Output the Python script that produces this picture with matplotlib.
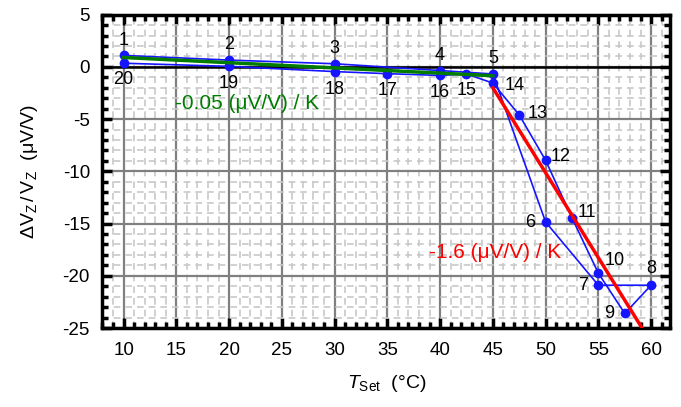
import matplotlib
matplotlib.use("Agg")
import matplotlib.pyplot as plt
from matplotlib.ticker import MultipleLocator

plt.rcParams['font.family'] = ['Liberation Sans', 'DejaVu Sans']
plt.rcParams['mathtext.fontset'] = 'custom'
plt.rcParams['mathtext.rm'] = 'Liberation Sans'
plt.rcParams['mathtext.it'] = 'Liberation Sans:italic'
plt.rcParams['axes.unicode_minus'] = False

# Data: measurement sequence 1..20
point_ids = list(range(1, 21))
temps = [10, 20, 30, 40, 45, 50, 55, 60, 57.5, 55, 52.5, 50, 47.5, 45, 42.5, 40, 35, 30, 20, 10]
dvz = [1.1, 0.65, 0.3, -0.35, -0.68, -14.85, -20.9, -20.9, -23.6, -19.75, -14.45, -8.95,
       -4.6, -1.55, -0.68, -0.82, -0.65, -0.45, 0.05, 0.35]

# fit lines
green_T = [10, 45]
green_V = [0.9, -0.85]
red_T = [45, 60]
red_V = [-2.0, -26.4]

# label offsets (points) for each id
offsets = {1: (0, 11), 2: (0, 11), 3: (0, 11), 4: (0, 11), 5: (0, 11),
           6: (-11, 0), 7: (-11, 0), 8: (0, 12), 9: (-11, 0), 10: (12, 9),
           11: (11, 4), 12: (11, 3), 13: (13, 1), 14: (16, -2), 15: (0, -12),
           16: (0, -12), 17: (0, -12), 18: (0, -13), 19: (0, -12), 20: (0, -12)}

fig = plt.figure(figsize=(6.81, 4.07), dpi=100)
ax = fig.add_axes([0.1505, 0.194, 0.8335, 0.770])

ax.set_xlim(8, 61.8)
ax.set_ylim(-25, 5)

ax.xaxis.set_major_locator(MultipleLocator(5))
ax.xaxis.set_minor_locator(MultipleLocator(1))
ax.yaxis.set_major_locator(MultipleLocator(5))
ax.yaxis.set_minor_locator(MultipleLocator(1))

ax.grid(which='minor', color='#c8c8c8', linestyle=(0, (4, 3)), linewidth=1.2, zorder=0)
ax.grid(which='major', color='#808080', linestyle='-', linewidth=1.6, zorder=0)
ax.set_axisbelow(True)
ax.axhline(0, color='black', linewidth=1.8, zorder=1)

ax.tick_params(which='both', direction='in', top=True, right=True, labelsize=13.5)
ax.tick_params(axis='x', pad=10)
ax.tick_params(axis='y', pad=9)
ax.tick_params(which='major', length=7, width=2.5)
ax.tick_params(which='minor', length=4.5, width=2.5)
for s in ax.spines.values():
    s.set_linewidth(2.5)

ax.plot(temps, dvz, color='#1515ff', linewidth=1.2, marker='o', markersize=6,
        zorder=3, clip_on=False)
ax.plot(green_T, green_V, color='#007d00', linewidth=2.5, zorder=4)
ax.plot(red_T, red_V, color='#ff0000', linewidth=2.5, zorder=4)

for pid, t, v in zip(point_ids, temps, dvz):
    dx, dy = offsets[pid]
    ax.annotate(str(pid), (t, v), xytext=(dx, dy), textcoords='offset points',
                ha='center', va='center', fontsize=13, zorder=5)

ax.text(21.7, -3.5, '-0.05 (μV/V) / K', color='#007d00', fontsize=15,
        ha='center', va='center')
ax.text(45.2, -17.8, '-1.6 (μV/V) / K', color='#ff0000', fontsize=15,
        ha='center', va='center')

ax.set_xlabel(r'$T_\mathrm{Set}$  (°C)', fontsize=14, labelpad=10)
ax.set_ylabel(r'$\mathrm{\Delta V_Z\,/\,V_Z}$  (μV/V)', fontsize=14, labelpad=16)

fig.savefig('out.png', dpi=100)
